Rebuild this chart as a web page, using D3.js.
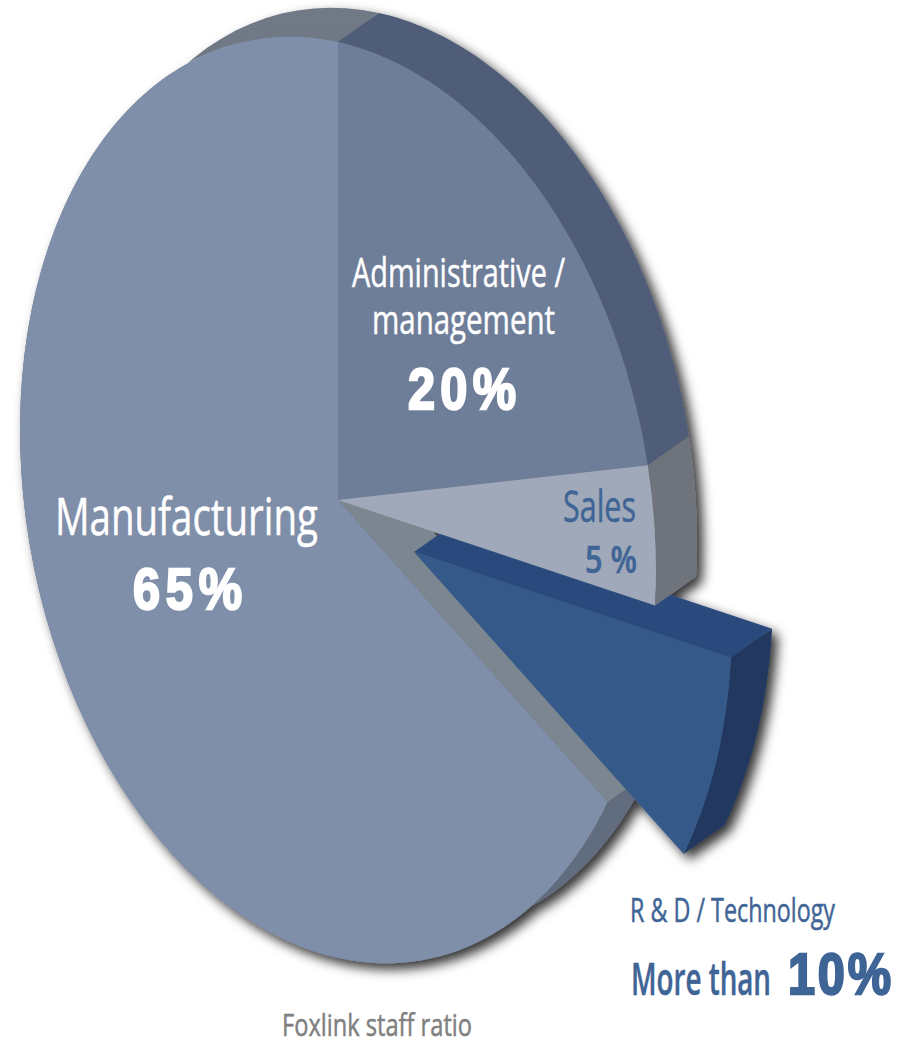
<!DOCTYPE html>
<html>
<head>
<meta charset="utf-8">
<script src="https://cdn.jsdelivr.net/npm/d3@7"></script>
<style>
  html, body { margin: 0; padding: 0; background: #fff; }
  svg { display: block; }
</style>
</head>
<body>
<div id="chart"></div>
<script>
// values as printed on the chart, clockwise from 12 o'clock
var categories = ["Administrative / management", "Sales", "R & D / Technology", "Manufacturing"];
var shares = [20, 5, 10, 65];
var shareLabels = ["20%", "5 %", "10%", "65%"];
var faceColors = ["#6e7d98", "#a0a9b9", "#355a8a", "#7f8ea9"];
var wallColors = ["#4f5d78", "#6e737b", "#20385f", "url(#mfgWall)"];

var width = 907, height = 1040;
var depth = [41, -29];      // extrusion direction
var explode = [76, 52];     // how far the R&D slice is pulled out
var tilt = [318, 70, 0, 458, 338, 500]; // unit circle -> tilted disc

// the illustrator's perspective squeezes some slices, so the angles are bent a bit
var pie = d3.pie().value(function(d) { return d; }).sort(null);
var slices = pie(shares);
var toRad = Math.PI / 180;
var bend = d3.scaleLinear()
  .domain([0, slices[0].endAngle, slices[1].endAngle, slices[2].endAngle, 2 * Math.PI])
  .range([0, 77 * toRad, 94.5 * toRad, 122 * toRad, 2 * Math.PI]);

var arc = d3.arc().innerRadius(0).outerRadius(1);

function project(r, a) {
  var x = r * Math.sin(a), y = -r * Math.cos(a);
  return [tilt[0] * x + tilt[2] * y + tilt[4], tilt[1] * x + tilt[3] * y + tilt[5]];
}
function shift(p, d) { return [p[0] + d[0], p[1] + d[1]]; }

var line = d3.line();

// outer rim of a slice, swept along the depth direction
function rim(start, end) {
  var steps = d3.range(0, 1.0001, 1 / 80).map(function(f) {
    return project(1, start + (end - start) * f);
  });
  var back = steps.map(function(p) { return shift(p, depth); }).reverse();
  return line(steps.concat(back)) + "Z";
}
// flat cut side of a slice
function cut(a) {
  var c = project(0, a), e = project(1, a);
  return line([c, e, shift(e, depth), shift(c, depth)]) + "Z";
}

var svg = d3.select("#chart").append("svg")
  .attr("width", width)
  .attr("height", height);

var defs = svg.append("defs");
var filter = defs.append("filter")
  .attr("id", "shadow")
  .attr("filterUnits", "userSpaceOnUse")
  .attr("x", 0).attr("y", 0).attr("width", width).attr("height", height);
filter.append("feDropShadow")
  .attr("dx", 6).attr("dy", 6)
  .attr("stdDeviation", 6)
  .attr("flood-color", "#000")
  .attr("flood-opacity", 0.8);

// manufacturing rim goes from gray at the top to a darker blue gray at the bottom
var grad = defs.append("linearGradient")
  .attr("id", "mfgWall")
  .attr("gradientUnits", "userSpaceOnUse")
  .attr("x1", 0).attr("y1", 0).attr("x2", 0).attr("y2", height);
grad.append("stop").attr("offset", "0").attr("stop-color", "#707986");
grad.append("stop").attr("offset", "0.75").attr("stop-color", "#626c7f");

var pieGroup = svg.append("g").attr("filter", "url(#shadow)");

function drawFace(i, parent) {
  parent.append("g")
    .attr("transform", "matrix(" + tilt.join(",") + ")")
    .append("path")
    .attr("d", arc({ startAngle: bend(slices[i].startAngle), endAngle: bend(slices[i].endAngle) }))
    .attr("fill", faceColors[i]);
}

// manufacturing: rim + cut side + face
pieGroup.append("path")
  .attr("d", rim(bend(slices[3].startAngle), bend(slices[3].endAngle)))
  .attr("fill", wallColors[3]);
pieGroup.append("path")
  .attr("d", cut(bend(slices[3].startAngle)))
  .attr("fill", "#7b8690");
drawFace(3, pieGroup);

// R&D slice pulled out
var rd = pieGroup.append("g")
  .attr("transform", "translate(" + explode.join(",") + ")");
rd.append("path")
  .attr("d", cut(bend(slices[2].startAngle)))
  .attr("fill", "#2b4a7c");
rd.append("path")
  .attr("d", rim(bend(slices[2].startAngle), bend(slices[2].endAngle)))
  .attr("fill", wallColors[2]);
drawFace(2, rd);

// admin + sales on top
[0, 1].forEach(function(i) {
  pieGroup.append("path")
    .attr("d", rim(bend(slices[i].startAngle), bend(slices[i].endAngle)))
    .attr("fill", wallColors[i]);
});
[0, 1].forEach(function(i) { drawFace(i, pieGroup); });

// labels - textLength squeezes them to the narrow look of the original
function label(txt, x, y, size, w, color, weight) {
  svg.append("text")
    .attr("x", x).attr("y", y)
    .attr("font-family", "'Open Sans', sans-serif")
    .attr("font-size", size)
    .attr("font-weight", weight || 400)
    .attr("fill", color)
    .attr("stroke", color)
    .attr("stroke-width", 0.5)
    .attr("textLength", w)
    .attr("lengthAdjust", "spacingAndGlyphs")
    .text(txt);
}
// the big numbers: heavy digits, spaced out
function bigNumber(txt, x, y, size, w, color) {
  var sx = 0.84;
  svg.append("text")
    .attr("transform", "translate(" + x + "," + y + ") scale(" + sx + ",1)")
    .attr("font-family", "'Liberation Sans', sans-serif")
    .attr("font-size", size)
    .attr("font-weight", 700)
    .attr("fill", color)
    .attr("stroke", color)
    .attr("stroke-width", 2.4)
    .attr("textLength", w / sx)
    .attr("lengthAdjust", "spacing")
    .text(txt);
}
var blue = "#3f6496";

label("Administrative /", 352, 287, 41, 213, "#fff");
label("management", 372, 334, 41, 183, "#fff");
bigNumber(shareLabels[0], 408, 409, 58, 108, "#fff");
label(categories[1], 563, 522, 44, 73, blue);
label(shareLabels[1], 585, 573, 38, 52, blue, 600);
label(categories[3], 55, 535, 51, 263, "#fff");
bigNumber(shareLabels[3], 133, 609, 58, 109, "#fff");
label(categories[2], 630, 922, 33, 205, blue);
label("More than", 631, 995, 46, 140, blue, 600);
bigNumber(shareLabels[2], 788, 994, 58, 103, blue);
label("Foxlink staff ratio", 282, 1036, 31, 190, "#808080");
</script>
</body>
</html>
